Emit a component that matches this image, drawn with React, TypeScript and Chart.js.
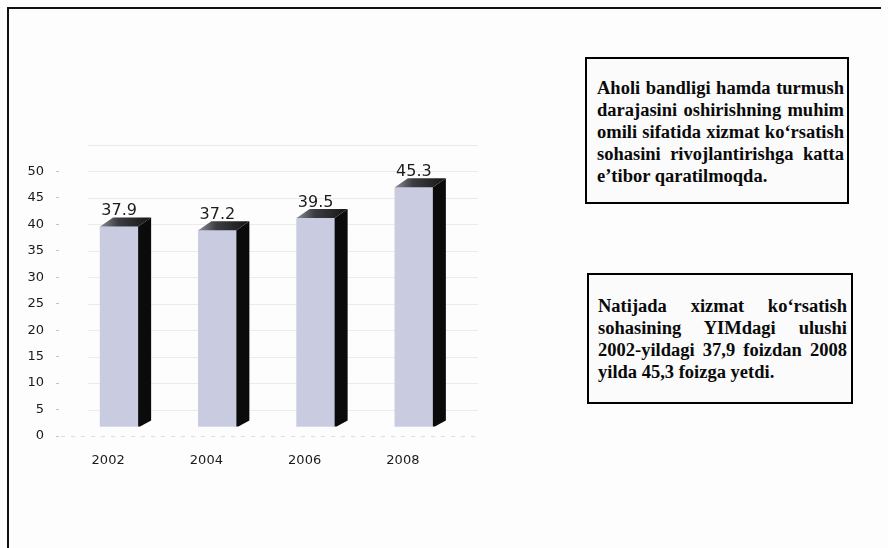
import React, { useEffect, useRef } from 'react';
import { Chart, registerables } from 'chart.js';

Chart.register(...registerables);

const years: string[] = ['2002', '2004', '2006', '2008'];
const shares: number[] = [37.9, 37.2, 39.5, 45.3];
const yMax = 55;
const yStep = 5;
const yLabelMax = 50;

const note1Lines: string[] = [
  'Aholi bandligi hamda turmush',
  'darajasini oshirishning muhim',
  'omili sifatida xizmat ko‘rsatish',
  'sohasini rivojlantirishga katta',
  'e’tibor qaratilmoqda.',
];
const note2Lines: string[] = [
  'Natijada xizmat ko‘rsatish',
  'sohasining YIMdagi ulushi',
  '2002-yildagi 37,9 foizdan 2008',
  'yilda 45,3 foizga yetdi.',
];

const DX = 11; // 3D shift of the front face
const DY = 9;
const DEPTH_X = 13;
const DEPTH_Y = 9;

const wallPlugin = {
  id: 'wall',
  beforeDatasetsDraw(chart: any) {
    const { ctx, chartArea, scales } = chart;
    const y = scales.y;
    ctx.save();
    y.ticks.forEach((t: any) => {
      const py = Math.round(y.getPixelForValue(t.value)) + 0.5;
      ctx.beginPath();
      if (t.value === 0) {
        ctx.setLineDash([4, 6]);
        ctx.strokeStyle = 'rgba(0,0,0,0.12)';
        ctx.moveTo(chartArea.left + 2, py);
      } else {
        ctx.setLineDash([]);
        ctx.strokeStyle = 'rgba(0,0,0,0.07)';
        ctx.moveTo(chartArea.left + 29, py);
      }
      ctx.lineTo(chartArea.right + 26, py);
      ctx.lineWidth = 1;
      ctx.stroke();
    });
    ctx.restore();
    ctx.save();
    ctx.translate(DX, -DY);
  },
  afterDatasetsDraw(chart: any) {
    const { ctx } = chart;
    const meta = chart.getDatasetMeta(0);
    meta.data.forEach((bar: any, i: number) => {
      const w = bar.width;
      const left = bar.x - w / 2;
      const right = bar.x + w / 2;
      const top = bar.y;
      const bottom = bar.base;
      // side face
      ctx.beginPath();
      ctx.moveTo(right, top);
      ctx.lineTo(right + DEPTH_X, top - DEPTH_Y);
      ctx.lineTo(right + DEPTH_X, bottom - DEPTH_Y + 3);
      ctx.lineTo(right + 2, bottom);
      ctx.lineTo(right, bottom);
      ctx.closePath();
      ctx.fillStyle = '#0b0b0b';
      ctx.fill();
      // top face
      const g = ctx.createLinearGradient(left, 0, right + DEPTH_X, 0);
      g.addColorStop(0, '#8a8c94');
      g.addColorStop(0.35, '#3c3d42');
      g.addColorStop(1, '#151515');
      ctx.beginPath();
      ctx.moveTo(left, top);
      ctx.lineTo(left + DEPTH_X, top - DEPTH_Y);
      ctx.lineTo(right + DEPTH_X, top - DEPTH_Y);
      ctx.lineTo(right, top);
      ctx.closePath();
      ctx.fillStyle = g;
      ctx.fill();
      // value label
      ctx.font = '16px "DejaVu Sans"';
      ctx.textAlign = 'center';
      ctx.textBaseline = 'alphabetic';
      ctx.fillStyle = '#1c1c1c';
      ctx.fillText(String(shares[i]), bar.x, top - 11);
    });
    ctx.restore();
  },
};

function ChartCanvas() {
  const ref = useRef<HTMLCanvasElement | null>(null);
  useEffect(() => {
    if (!ref.current) return;
    const chart = new Chart(ref.current, {
      type: 'bar',
      data: {
        labels: years,
        datasets: [
          {
            data: shares,
            backgroundColor: '#c9cce0',
            borderWidth: 0,
            barThickness: 38,
            clip: false as any,
          },
        ],
      },
      options: {
        animation: false,
        responsive: false,
        devicePixelRatio: 1,
        layout: { padding: { top: 145, right: 28, left: 0, bottom: 0 } },
        plugins: {
          legend: { display: false },
          tooltip: { enabled: false },
          title: { display: false },
        },
        scales: {
          y: {
            min: 0,
            max: yMax,
            border: { display: false },
            grid: {
              drawOnChartArea: false,
              drawTicks: true,
              tickLength: 3,
              tickColor: (c: any) => (c.tick && c.tick.value > yLabelMax ? 'rgba(0,0,0,0)' : '#c4c4c4'),
            },
            ticks: {
              stepSize: yStep,
              padding: 12,
              color: '#1a1a1a',
              font: { family: '"DejaVu Sans"', size: 13 },
              callback: (v: any) => (Number(v) > yLabelMax ? '' : String(v)),
            },
            afterFit: (s: any) => {
              s.width = 59;
            },
          },
          x: {
            border: { display: false },
            grid: { display: false, drawTicks: false },
            ticks: {
              padding: 17,
              color: '#1a1a1a',
              font: { family: '"DejaVu Sans"', size: 13 },
            },
            afterFit: (s: any) => {
              s.height = 44;
            },
          },
        },
      },
      plugins: [wallPlugin],
    });
    return () => chart.destroy();
  }, []);
  return (
    <canvas
      ref={ref}
      width={480}
      height={480}
      style={{ position: 'absolute', left: 0, top: 0, width: 480, height: 480 }}
    />
  );
}

function NoteBox(props: {
  lines: string[];
  boxLeft: number;
  boxTop: number;
  boxWidth: number;
  boxHeight: number;
  textLeft: number;
  textTop: number;
  textWidth: number;
}) {
  const { lines, boxLeft, boxTop, boxWidth, boxHeight, textLeft, textTop, textWidth } = props;
  return (
    <>
      <div
        style={{
          position: 'absolute',
          left: boxLeft,
          top: boxTop,
          width: boxWidth,
          height: boxHeight,
          border: '2px solid #000',
          boxSizing: 'border-box',
          background: '#fbfbfc',
        }}
      />
      <div
        style={{
          position: 'absolute',
          left: textLeft,
          top: textTop,
          width: textWidth,
          fontFamily: '"Liberation Serif", "Times New Roman", serif',
          fontWeight: 'bold',
          fontSize: 18.5,
          lineHeight: '22px',
          color: '#0a0a0a',
        }}
      >
        {lines.map((ln, i) => (
          <div
            key={i}
            style={{
              whiteSpace: 'nowrap',
              textAlign: i < lines.length - 1 ? 'justify' : 'left',
              textAlignLast: i < lines.length - 1 ? 'justify' : 'left',
              height: 22,
            }}
          >
            {ln}
          </div>
        ))}
      </div>
    </>
  );
}

export default function App() {
  return (
    <div
      style={{
        position: 'absolute',
        left: 0,
        top: 0,
        width: 888,
        height: 548,
        overflow: 'hidden',
        background: '#fdfdfd',
      }}
    >
      <div
        style={{
          position: 'absolute',
          left: 7,
          top: 7,
          width: 874,
          height: 541,
          borderTop: '2px solid #111',
          borderLeft: '2px solid #111',
          boxSizing: 'border-box',
        }}
      />
      <ChartCanvas />
      <NoteBox
        lines={note1Lines}
        boxLeft={585}
        boxTop={57}
        boxWidth={264}
        boxHeight={147}
        textLeft={597}
        textTop={77}
        textWidth={247}
      />
      <NoteBox
        lines={note2Lines}
        boxLeft={587}
        boxTop={273}
        boxWidth={266}
        boxHeight={131}
        textLeft={598}
        textTop={295}
        textWidth={249}
      />
    </div>
  );
}
